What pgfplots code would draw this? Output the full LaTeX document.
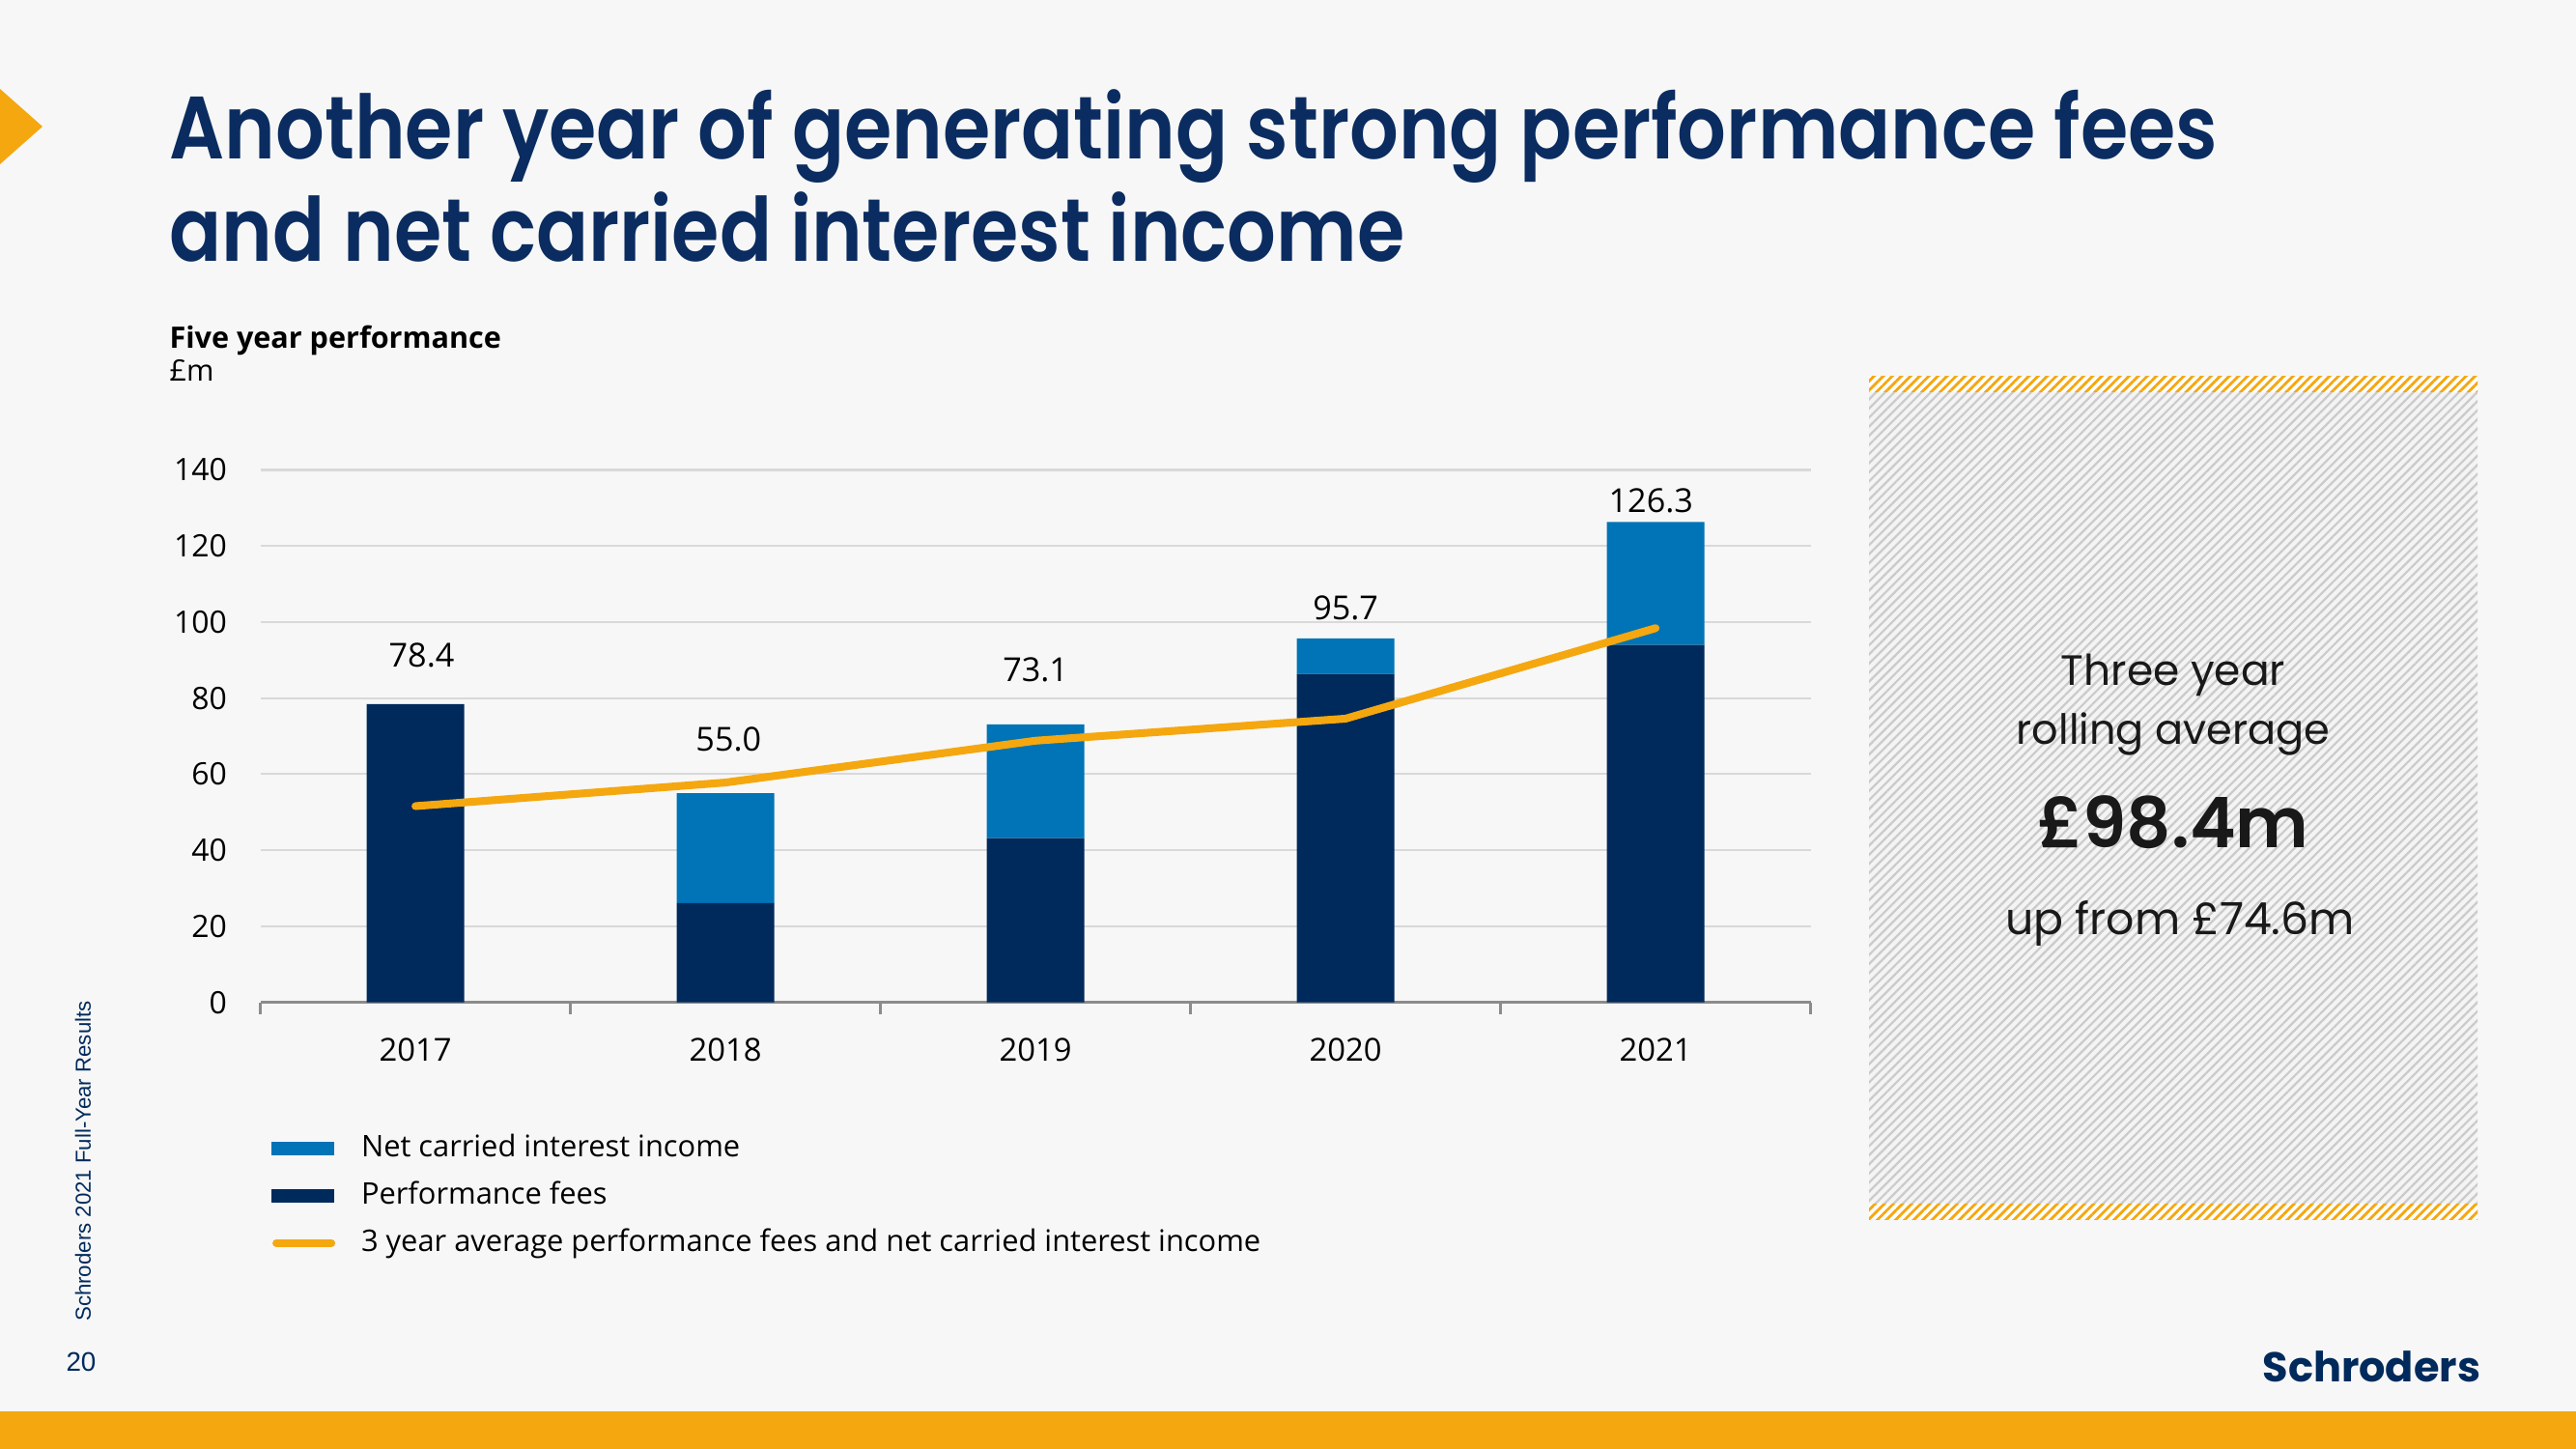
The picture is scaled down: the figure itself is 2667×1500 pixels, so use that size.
\documentclass[border=0pt]{standalone}
\usepackage{fontspec}
\setmainfont{Open Sans}
\newfontfamily\titlefont{Poppins SemiBold}
\newfontfamily\geofont{Poppins}
\newfontfamily\arialfont{Liberation Sans}
\usepackage{pgfplots}
\pgfplotsset{compat=1.18}
\usetikzlibrary{patterns.meta}
\definecolor{navy}{HTML}{002A5C}
\definecolor{titlec}{HTML}{0A2C60}
\definecolor{lblue}{HTML}{0074B6}
\definecolor{gold}{HTML}{F5A70F}
\definecolor{bg}{HTML}{F7F7F7}
\definecolor{gridc}{HTML}{D9D9D9}
\definecolor{axisc}{HTML}{8C8C8C}
\definecolor{hatchc}{HTML}{CBCBCB}
\definecolor{boxbg}{HTML}{F4F4F4}
\begin{document}
\begin{tikzpicture}[x=0.36pt,y=-0.36pt]
\fill[bg] (0,0) rectangle (2667,1500);
\useasboundingbox (0,0) rectangle (2667,1500);
% decorations
\fill[gold] (0,92) -- (44,131) -- (0,170) -- cycle;
\fill[gold] (0,1461) rectangle (2667,1500);
% title
\node[anchor=base west, inner sep=0pt, xscale=0.87, text=titlec, font=\titlefont\fontsize{33}{38}\selectfont] at (175,165) {Another year of generating strong performance fees};
\node[anchor=base west, inner sep=0pt, xscale=0.87, text=titlec, font=\titlefont\fontsize{33}{38}\selectfont] at (175,271) {and net carried interest income};
% subtitle
\node[anchor=base west, inner sep=0pt, font=\bfseries\fontsize{11}{13}\selectfont] at (175,361) {Five year performance};
\node[anchor=base west, inner sep=0pt, font=\fontsize{11}{13}\selectfont] at (175,395) {£m};
% right box
\fill[boxbg] (1935,390) rectangle (2565,1262);
\fill[pattern={Lines[angle=45,distance=2.4pt,line width=0.8pt]}, pattern color=hatchc] (1935,390) rectangle (2565,1262);
\fill[white] (1935,390) rectangle (2565,406);
\fill[pattern={Lines[angle=45,distance=2.4pt,line width=1pt]}, pattern color=gold] (1935,390) rectangle (2565,406);
\fill[white] (1935,1246) rectangle (2565,1262);
\fill[pattern={Lines[angle=45,distance=2.4pt,line width=1pt]}, pattern color=gold] (1935,1246) rectangle (2565,1262);
\node[font=\geofont\fontsize{15.8}{18}\selectfont, text=black!90] at (2250,699) {Three year};
\node[font=\geofont\fontsize{15.5}{18}\selectfont, text=black!90] at (2250,760) {rolling average};
\node[font=\titlefont\fontsize{26}{30}\selectfont, text=black!90] at (2250,851) {£98.4m};
\node[font=\geofont\fontsize{16.5}{19}\selectfont, text=black!90] at (2257,956) {up from £74.6m};
% footer
\node[rotate=90, inner sep=0pt, text=navy, font=\arialfont\fontsize{8}{9}\selectfont] at (86,1202) {Schroders 2021 Full-Year Results};
\node[inner sep=0pt, text=navy, font=\arialfont\fontsize{10}{11}\selectfont] at (84,1410) {20};
\node[anchor=west, inner sep=0pt, text=navy, font=\geofont\bfseries\fontsize{15.5}{18}\selectfont] at (2342,1415) {Schroders};
% bars
\begin{axis}[
  at={(97.06pt,-373.54pt)}, anchor=south west,
  scale only axis, width=577.8pt, height=198.4pt,
  xmin=-0.5, xmax=4.5, ymin=0, ymax=140,
  ybar stacked, bar width=36.4pt,
  axis x line*=bottom, axis y line*=left,
  x axis line style={draw=axisc, line width=0.9pt, -},
  y axis line style={draw=none},
  xtick={0,1,2,3,4}, xticklabels={2017,2018,2019,2020,2021},
  minor xtick={-0.5,0.5,1.5,2.5,3.5,4.5},
  ytick={0,20,...,140},
  major tick length=0pt, minor tick length=4.4pt, tick align=outside,
  minor tick style={draw=axisc, line width=0.9pt},
  ymajorgrids, grid style={draw=gridc, line width=0.75pt},
  tick label style={font=\fontsize{11.5}{13}\selectfont, text=black},
  xticklabel style={font=\fontsize{11.8}{13}\selectfont, yshift=-9.8pt},
  /pgf/number format/assume math mode=true,
  yticklabel style={xshift=-9pt},
  clip=false,
]
\addplot[fill=navy, draw=none, forget plot] coordinates {(0,78.4) (1,26.1) (2,43.2) (3,86.4) (4,94.0)};
\addplot[fill=lblue, draw=none, forget plot] coordinates {(0,0) (1,28.9) (2,29.9) (3,9.3) (4,32.3)};
\node[font=\fontsize{12.3}{14}\selectfont] at (axis cs:0.02,91.2) {78.4};
\node[font=\fontsize{12.3}{14}\selectfont] at (axis cs:1.01,69.1) {55.0};
\node[font=\fontsize{12.3}{14}\selectfont] at (axis cs:2,87.5) {73.1};
\node[font=\fontsize{12.3}{14}\selectfont] at (axis cs:3,103.8) {95.7};
\node[font=\fontsize{12.3}{14}\selectfont] at (axis cs:3.985,131.8) {126.3};
\end{axis}
% line and legend
\begin{axis}[
  at={(97.06pt,-373.54pt)}, anchor=south west,
  scale only axis, width=577.8pt, height=198.4pt,
  xmin=-0.5, xmax=4.5, ymin=0, ymax=140,
  axis lines=none, ticks=none, clip=false,
  legend style={at={(axis description cs:0.007,-0.246)}, anchor=north west, draw=none, fill=none,
    font=\fontsize{11.1}{13}\selectfont, inner sep=0pt, row sep=6.6pt,
    nodes={inner ysep=0pt, inner xsep=0pt, text height=8.5pt, text depth=2.5pt},
    /tikz/every odd column/.append style={column sep=9.7pt}},
  legend cell align=left,
]
\addlegendimage{legend image code/.code={\fill[lblue] (0pt,-2.4pt) rectangle (22.7pt,2.4pt);}}
\addlegendentry{Net carried interest income}
\addlegendimage{legend image code/.code={\fill[navy] (0pt,-2.4pt) rectangle (22.7pt,2.4pt);}}
\addlegendentry{Performance fees}
\addplot[gold, line width=2.9pt, line cap=round, line join=round, mark=none,
  legend image code/.code={\draw[gold, line width=2.9pt, line cap=round] (1.5pt,0pt) -- (22pt,0pt);}]
  coordinates {(0,51.6) (1,57.8) (2,68.8) (3,74.6) (4,98.4)};
\addlegendentry{3 year average performance fees and net carried interest income}
\end{axis}
\end{tikzpicture}
\end{document}
